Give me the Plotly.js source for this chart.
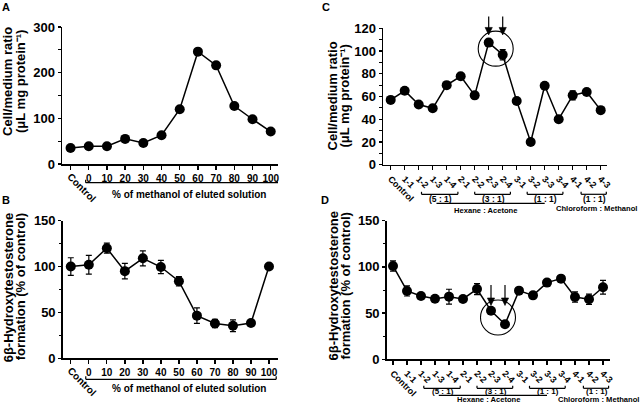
<!DOCTYPE html>
<html><head><meta charset="utf-8">
<script src="https://cdn.plot.ly/plotly-3.0.1.min.js"></script>
<style>html,body{margin:0;padding:0;background:#fff}#chart{width:640px;height:404px}</style>
</head><body><div id="chart"></div><script>
// ---- data ----
const methanolCats = ['Control','0','10','20','30','40','50','60','70','80','90','100'];
const methanolTickText = ['','0','10','20','30','40','50','60','70','80','90','100'];
const ratioA = [35,39,39,55,46,63,120,246,216,127,98,71];
const formationB = [100,102,120,95,109,99.5,84,46.5,38,35.5,38.5,100];
const errB = [9.6,10.2,5.5,8.5,8.2,7.3,5,8.4,4.5,6.4,3,0];
const fractionCats = ['Control','1-1','1-2','1-3','1-4','2-1','2-2','2-3','2-4','3-1','3-2','3-3','3-4','4-1','4-2','4-3'];
const ratioC = [57,65,53,49.6,70,77.8,61,107.4,96.8,56,20,69.5,40,61,64,48];
const errC = [0,0,0,0,0,0,0,0,4.5,0,0,0,0,4,0,0];
const formationD = [101,74,68.5,65.6,67.8,65.3,76,52.6,37.9,74.3,69.2,83,87.3,67.4,65,78];
const errD = [5.5,5.5,0,0,8,0,6,0,0,0,0,0,0,5.5,5.5,7.5];
const groupFirst = ['1-2','2-2','3-2','4-1'];
const groupLast = ['1-4','2-4','3-4','4-3'];
const groupLabels = ['(5 : 1)','(3 : 1)','(1 : 1)','(1 : 1)'];
const solventLabels = ['Hexane : Acetone','Chloroform : Methanol'];
const highlighted = ['2-3','2-4'];
const methanolLabel = '% of methanol of eluted solution';

// ---- helpers ----
const W = 640, H = 404;
const F = 'Liberation Sans, Arial, Helvetica, sans-serif';
const px = x => x / W;
const py = y => 1 - y / H;
const idx = c => fractionCats.indexOf(c);

function xAx(domain, range, cats, ticktext, angle, size, anchor){
  return {domain:domain, range:range, type:'category', categoryarray:cats,
    tickmode:'array', tickvals:cats, ticktext:ticktext, tickangle:angle,
    tickfont:{family:F, size:size, color:'#000', weight:'bold'},
    showline:true, linecolor:'#000', linewidth:1.5, ticks:'outside', ticklen:4,
    tickwidth:1.3, tickcolor:'#000', showgrid:false, zeroline:false, anchor:anchor, fixedrange:true};
}
function yAx(domain, range, dtick, minor, anchor){
  return {domain:domain, range:range, dtick:dtick, tick0:0,
    tickfont:{family:F, size:13, color:'#000', weight:'bold'},
    showline:true, linecolor:'#000', linewidth:1.5, ticks:'outside', ticklen:3,
    tickwidth:1.3, tickcolor:'#000', showgrid:false, zeroline:false, anchor:anchor, fixedrange:true,
    minor:{dtick:minor, tick0:0, ticks:'outside', ticklen:2.5, tickwidth:1, tickcolor:'#000', showgrid:false}};
}
function trace(x, y, err, xa, ya){
  return {x:x, y:y, xaxis:xa, yaxis:ya, type:'scatter', mode:'lines+markers',
    line:{color:'#000', width:1.5}, marker:{color:'#000', size:10},
    error_y:{type:'data', array:err, visible:true, thickness:1.2, width:3, color:'#000'},
    cliponaxis:false, hoverinfo:'skip'};
}

const yaxisC = yAx([py(164.7), py(28.3)], [0, 120], 20, 10, 'x3');
const yaxisD = yAx([py(359.3), py(220.7)], [0, 150], 50, 25, 'x4');
const toPaperY = (ax, v) => ax.domain[0] + (v - ax.range[0]) / (ax.range[1] - ax.range[0]) * (ax.domain[1] - ax.domain[0]);

const data = [
  trace(methanolCats, ratioA, ratioA.map(()=>0), 'x', 'y'),
  trace(methanolCats, formationB, errB, 'x2', 'y2'),
  trace(fractionCats, ratioC, errC, 'x3', 'y3'),
  trace(fractionCats, formationD, errD, 'x4', 'y4')
];

const shapes = [];
const annotations = [];
const L = {type:'line', line:{color:'#000', width:1.2}};
function hline(xref, x0, x1, y){ shapes.push(Object.assign({}, L, {xref:xref, yref:'paper', x0:x0, x1:x1, y0:y, y1:y})); }
function vline(xref, x, y0, y1){ shapes.push(Object.assign({}, L, {xref:xref, yref:'paper', x0:x, x1:x, y0:y0, y1:y1})); }
function bracket(xref, x0, x1, yPix, hook){
  hline(xref, x0, x1, py(yPix)); vline(xref, x0, py(yPix), py(yPix-hook)); vline(xref, x1, py(yPix), py(yPix-hook));
}
function text(t, xref, x, y, size, extra){
  annotations.push(Object.assign({text:t, xref:xref, yref:'paper', x:x, y:y, showarrow:false, borderpad:0,
    xanchor:'center', yanchor:'middle', font:{family:F, size:size, color:'#000', weight:'bold'}}, extra||{}));
}

// Panel A/B methanol bracket + Control label
[['x', 'y', 182.7, 194.3], ['x2', 'y2', 379.3, 388]].forEach(([xr, yr, by, ty]) => {
  bracket(xr, 0.83, 11.4, by, 3);
  text(methanolLabel, 'paper', px(189), py(ty), 10);
  annotations.push({text:'Control', xref:xr, yref:yr, x:0, y:0, showarrow:false, textangle:45,
    xanchor:'center', yanchor:'middle', xshift:11, yshift:-23.5,
    font:{family:F, size:10, color:'#000', weight:'bold'}});
});

// Panels C/D fraction brackets
const offL = [0.2, 0.0, -0.25, 0.6], offR = [0.8, 0.55, 0.3, 0.4];
[['x3', 194.3, 199.0, 203.3, 210.0, 208.6, 8.5], ['x4', 388.3, 391.8, 395.4, 399.6, 399.4, 8]].forEach(([xr, by, gy, ly, hy, cy, gs]) => {
  groupFirst.forEach((g, i) => {
    const a = idx(g) + offL[i], b = idx(groupLast[i]) + offR[i];
    bracket(xr, a, b, by, 2.5);
    text(groupLabels[i], xr, (a+b)/2 + 0.05, py(gy), gs);
  });
  hline(xr, 3.27, 11.0, py(ly));
  text(solventLabels[0], xr, 6.8, py(hy), 7.6);
  text(solventLabels[1], xr, 14.7, py(cy), 7.6);
});

// Circles and arrows around highlighted fractions
[['x3','y3', yaxisC, ratioC, 7.7, 18.3], ['x4','y4', yaxisD, formationD, 5.2, 20.5]].forEach(([xr, yr, yax, vals, shift, len]) => {
  const i0 = idx(highlighted[0]), i1 = idx(highlighted[1]);
  const cx = (i0 + i1) / 2, cy = (vals[i0] + vals[i1]) / 2;
  shapes.push({type:'circle', xref:xr, yref:yr, xsizemode:'pixel', ysizemode:'pixel', xanchor:cx, yanchor:cy,
    x0:-17.5, x1:17.5, y0:-17.5, y1:17.5, line:{color:'#000', width:1.1}});
  const top = toPaperY(yax, Math.max(vals[i0], vals[i1]));
  [i0, i1].forEach(i => {
    const base = {xref:xr, yref:'paper', xsizemode:'pixel', ysizemode:'pixel', xanchor:i, yanchor:top};
    shapes.push(Object.assign({}, base, {type:'line', x0:0, x1:0, y0:shift+6, y1:shift+len, line:{color:'#000', width:1.2}}));
    shapes.push(Object.assign({}, base, {type:'path', path:`M -3.6 ${shift+7.5} L 3.6 ${shift+7.5} L 0 ${shift} Z`,
      fillcolor:'#000', line:{color:'#000', width:0.6}}));
  });
});

// Axis titles (two lines each, rotated)
const titles = [
  ['Cell/medium ratio', '(μL mg protein⁻¹)', 8, 21, 82],
  ['6β-Hydroxytestosterone', 'formation (% of control)', 8.3, 20.3, 287],
  ['Cell/medium ratio', '(μL mg protein⁻¹)', 331.5, 343.5, 96],
  ['6β-Hydroxytestosterone', 'formation (% of control)', 332.5, 344.5, 286]
];
titles.forEach(([l1, l2, x1, x2, yc]) => {
  text(l1, 'paper', px(x1), py(yc), 13, {textangle:-90});
  text(l2, 'paper', px(x2), py(yc), 13, {textangle:-90});
});

// Panel letters
[['A', 6, 7], ['B', 6, 200], ['C', 326, 7], ['D', 325, 200]].forEach(([t, x, y]) => text(t, 'paper', px(x), py(y), 11));

const layout = {
  width:W, height:H, margin:{l:0, r:0, t:0, b:0}, paper_bgcolor:'#fff', plot_bgcolor:'#fff', showlegend:false,
  font:{family:F, color:'#000'},
  xaxis: xAx([px(62), px(278)], [-0.47, 11.4], methanolCats, methanolTickText, 0, 10, 'y'),
  yaxis: yAx([py(164), py(27)], [0, 300], 100, 50, 'x'),
  xaxis2: xAx([px(62.7), px(278)], [-0.45, 11.5], methanolCats, methanolTickText, 0, 10, 'y2'),
  yaxis2: yAx([py(358.3), py(220.7)], [0, 150], 50, 25, 'x2'),
  xaxis3: xAx([px(383), px(607)], [-0.55, 15.45], fractionCats, fractionCats, 45, 9, 'y3'),
  yaxis3: yaxisC,
  xaxis4: xAx([px(386.7), px(610)], [-0.45, 15.5], fractionCats, fractionCats, 45, 9, 'y4'),
  yaxis4: yaxisD,
  shapes:shapes, annotations:annotations
};
Plotly.newPlot('chart', data, layout, {staticPlot:true, displayModeBar:false});
</script></body></html>
